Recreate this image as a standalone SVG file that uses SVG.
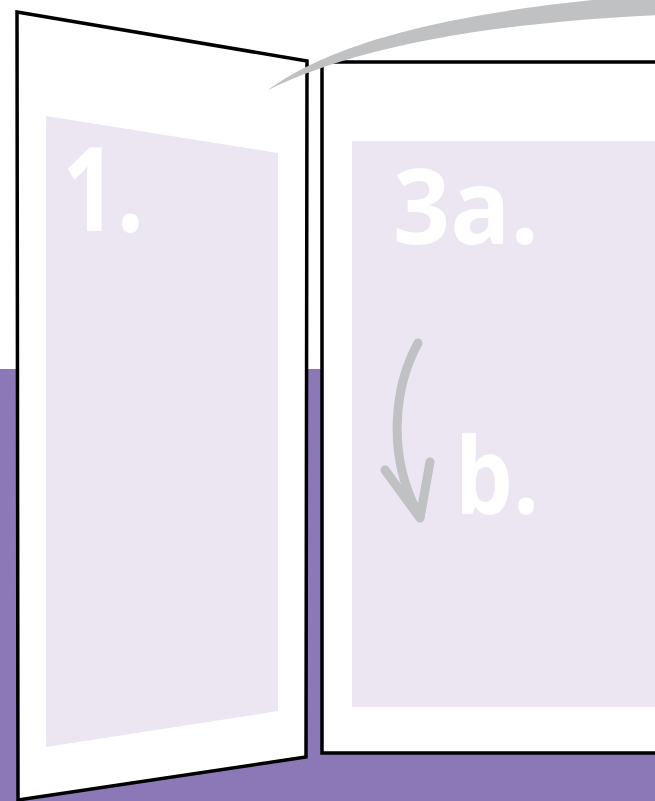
<svg xmlns="http://www.w3.org/2000/svg" width="655" height="801" viewBox="0 0 655 801">
<style>
.panel{fill:#ffffff;stroke:#000000;stroke-width:3.5;stroke-linejoin:miter}
.page{fill:#ece5f2}
.num{fill:#ffffff;font-family:"Open Sans","Noto Sans","Liberation Sans",sans-serif;font-weight:700}
.arr{fill:none;stroke:#c0c1c3;stroke-linecap:round;stroke-linejoin:round}
</style>
<rect x="0" y="0" width="655" height="801" fill="#ffffff"/>
<rect x="0" y="369" width="655" height="432" fill="#8a79b6"/>
<g id="panel-left">
<polygon class="panel" points="17,12 307,61 306,757 18,800"/>
<polygon class="page" points="46,116 278,153 278,711 46,747"/>
<text class="num" x="62" y="231" font-size="116" textLength="82" lengthAdjust="spacingAndGlyphs">1.</text>
</g>
<g id="panel-right">
<rect class="panel" x="322" y="62" width="360" height="691"/>
<rect class="page" x="352" y="141" width="310" height="566"/>
<text class="num" x="393" y="244" font-size="104" textLength="146" lengthAdjust="spacingAndGlyphs">3a.</text>
<text class="num" x="455" y="514" font-size="106" textLength="84" lengthAdjust="spacingAndGlyphs">b.</text>
</g>
<g id="connectors">
<path d="M268,90 C320,52 420,12 660,-6 L660,15 C470,24 350,50 268,90 Z" fill="#c0c1c3"/>
<path class="arr" stroke-width="9" d="M418,343 C395,385 385,455 420,517"/>
<path class="arr" stroke-width="9" d="M385,470 L420,518 L430,462"/>
</g>
</svg>
